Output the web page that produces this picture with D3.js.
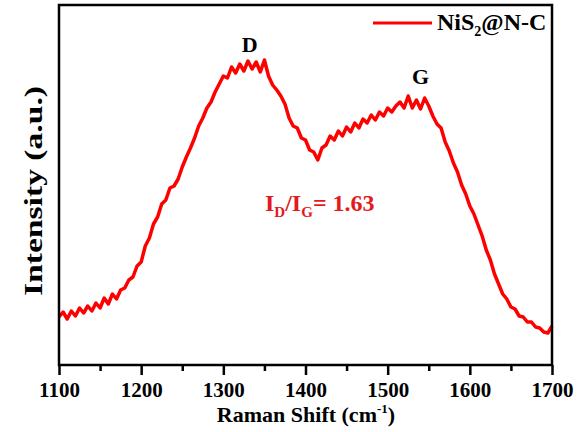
<!DOCTYPE html>
<html>
<head>
<meta charset="utf-8">
<script src="https://cdn.jsdelivr.net/npm/d3@7"></script>
<style>
  body { margin: 0; background: #fff; }
  text { font-family: "Liberation Serif", "Times New Roman", serif; font-weight: bold; }
</style>
</head>
<body>
<div id="chart"></div>
<script>
// Raman shift (cm-1), every 5 from 1100 to 1700
const shifts = d3.range(1100, 1701, 5)

// Intensity (a.u.)
const intensity = [
    48, 53, 46, 54, 49, 57, 52, 59, 54, 62,
    57, 67, 61, 71, 66, 75, 77, 85, 88, 99,
    103, 119, 127, 141, 148, 161, 165, 177, 179, 186,
    198, 208, 217, 227, 239, 247, 257, 263, 273, 281,
    289, 287, 298, 292, 301, 294, 304, 296, 303, 293,
    305, 289, 280, 275, 269, 261, 247, 239, 237, 227,
    225, 215, 213, 205, 217, 220, 229, 225, 234, 229,
    238, 233, 242, 237, 246, 242, 250, 245, 253, 249,
    257, 253, 259, 263, 257, 269, 257, 265, 256, 267,
    259, 249, 241, 237, 223, 214, 202, 193, 180, 171,
    159, 151, 140, 129, 115, 105, 91, 81, 71, 66,
    58, 56, 49, 48, 43, 43, 38, 37, 33, 32,
    39
]

const xTicks = [1100, 1200, 1300, 1400, 1500, 1600, 1700]
const xMinorTicks = [1150, 1250, 1350, 1450, 1550, 1650]

const peakLabels = ['D', 'G']
const peakShifts = [1332, 1540]
const peakHeights = [313, 281]

const width = 577
const height = 432
const plotLeft = 59, plotRight = 552, plotTop = 5, plotBottom = 365

const svg = d3.select('#chart').append('svg')
    .attr('width', width)
    .attr('height', height)

const xScale = d3.scaleLinear().domain([1100, 1700]).range([plotLeft, plotRight])
const yScale = d3.scaleLinear().domain([0, 360]).range([plotBottom, plotTop])

// Spectrum line
const line = d3.line()
    .x((_, i) => xScale(shifts[i]))
    .y(d => yScale(d))

svg.append('path')
    .datum(intensity)
    .attr('d', line)
    .attr('fill', 'none')
    .attr('stroke', '#ff0000')
    .attr('stroke-width', 3.5)
    .attr('stroke-linejoin', 'round')

// Frame
svg.append('rect')
    .attr('x', plotLeft)
    .attr('y', plotTop)
    .attr('width', plotRight - plotLeft)
    .attr('height', plotBottom - plotTop)
    .attr('fill', 'none')
    .attr('stroke', '#000')
    .attr('stroke-width', 2.5)

// X axis
const xAxis = d3.axisBottom(xScale)
    .tickValues(xTicks)
    .tickSize(10)
    .tickPadding(7)
    .tickFormat(d3.format('d'))

const gx = svg.append('g')
    .attr('transform', 'translate(0,' + plotBottom + ')')
    .call(xAxis)
gx.select('.domain').remove()
gx.selectAll('.tick line').attr('stroke-width', 2.5)
gx.selectAll('.tick text')
    .style('font-size', '21px')
    .style('font-family', '"Liberation Serif", "Times New Roman", serif')
    .style('font-weight', 'bold')
    .attr('fill', '#000')

const minorAxis = d3.axisBottom(xScale)
    .tickValues(xMinorTicks)
    .tickSize(6)
    .tickFormat('')
const gm = svg.append('g')
    .attr('transform', 'translate(0,' + plotBottom + ')')
    .call(minorAxis)
gm.select('.domain').remove()
gm.selectAll('.tick line').attr('stroke-width', 2.5)

// Axis titles
const xTitle = svg.append('text')
    .attr('x', 306)
    .attr('y', 422)
    .attr('text-anchor', 'middle')
    .style('font-size', '22px')
xTitle.append('tspan').text('Raman Shift (cm')
xTitle.append('tspan').text('-1').style('font-size', '13px').attr('dy', -9)
xTitle.append('tspan').text(')').attr('dy', 9)

svg.append('text')
    .attr('transform', 'translate(42,191) rotate(-90)')
    .attr('text-anchor', 'middle')
    .attr('textLength', 210)
    .attr('lengthAdjust', 'spacingAndGlyphs')
    .style('font-size', '25px')
    .text('Intensity (a.u.)')

// Peak labels
svg.selectAll('.peak')
    .data(peakLabels)
    .enter()
    .append('text')
    .classed('peak', true)
    .attr('x', (_, i) => xScale(peakShifts[i]))
    .attr('y', (_, i) => yScale(peakHeights[i]))
    .attr('text-anchor', 'middle')
    .style('font-size', '22px')
    .text(d => d)

// Ratio annotation
const ratio = svg.append('text')
    .attr('x', 265)
    .attr('y', 211)
    .attr('fill', '#e3191e')
    .style('font-size', '24px')
ratio.append('tspan').text('I')
ratio.append('tspan').text('D').style('font-size', '15px').attr('dy', 6)
ratio.append('tspan').text('/I').attr('dy', -6)
ratio.append('tspan').text('G').style('font-size', '15px').attr('dy', 6)
ratio.append('tspan').text('= 1.63').attr('dy', -6)

// Legend
svg.append('line')
    .attr('x1', 373)
    .attr('x2', 432)
    .attr('y1', 23)
    .attr('y2', 23)
    .attr('stroke', '#ff0000')
    .attr('stroke-width', 3)

const legendText = svg.append('text')
    .attr('x', 437)
    .attr('y', 30)
    .style('font-size', '24px')
legendText.append('tspan').text('NiS')
legendText.append('tspan').text('2').style('font-size', '14px').attr('dy', 6)
legendText.append('tspan').text('@N-C').attr('dy', -6)
</script>
</body>
</html>
